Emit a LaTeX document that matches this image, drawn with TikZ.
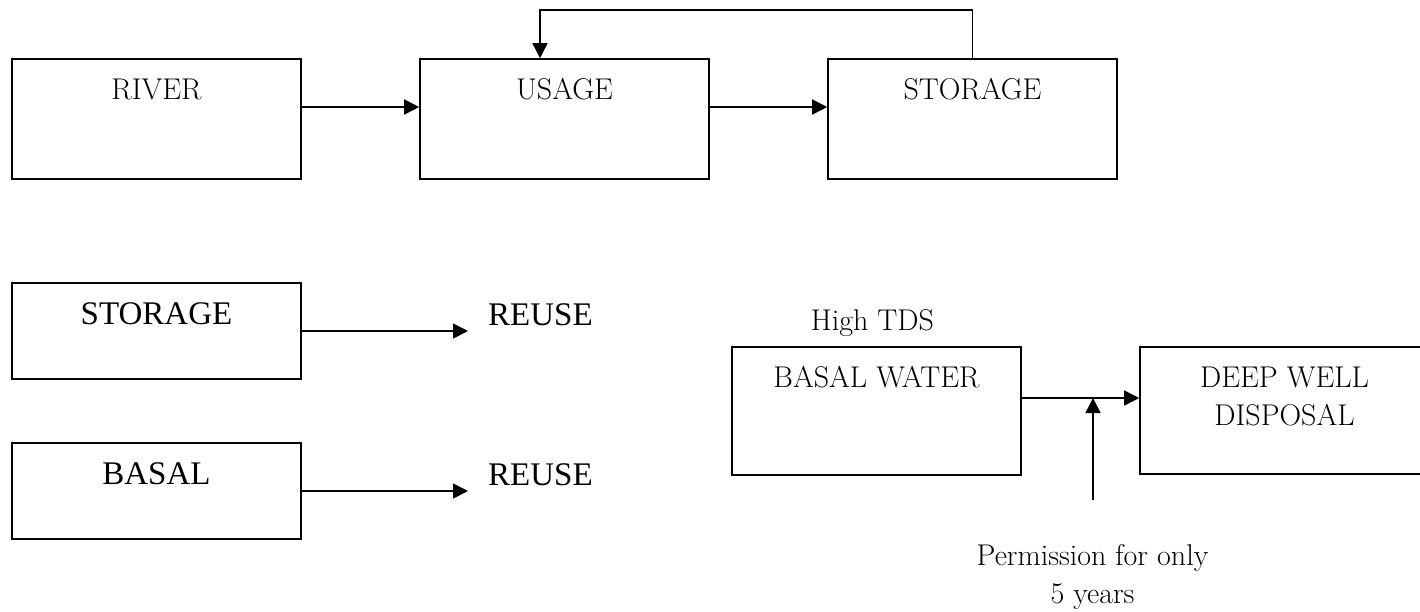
\documentclass[tikz,border=0pt]{standalone}
\usepackage{fontspec}
\newfontfamily\timesfont{Liberation Serif}
\usetikzlibrary{arrows.meta, positioning, calc}

\begin{document}
\begin{tikzpicture}[
  x=1pt, y=-1pt,
  font=\fontsize{30}{38}\selectfont,
  box/.style={draw, line width=1.6pt, minimum width=289pt, inner sep=0pt},
  lbl/.style={anchor=base, inner sep=0pt, align=center},
  tms/.style={anchor=base, inner sep=0pt, font=\timesfont\fontsize{33}{40}\selectfont},
  ar/.style={-{Triangle[length=15pt, width=15pt]}, line width=1.6pt}
]
\useasboundingbox (0,0) rectangle (1420,611);
% top row
\node[box, minimum height=120pt] (river) at (156.5,119) {};
\node[box, minimum height=120pt] (usage) at (564.5,119) {};
\node[box, minimum height=120pt] (store) at (972.5,119) {};
\node[lbl] (rivert) at ([yshift=-41pt]river.north) {RIVER};
\node[lbl] (usaget) at ([yshift=-41pt]usage.north) {USAGE};
\node[lbl] (storet) at ([yshift=-41pt]store.north) {STORAGE};
\draw[ar] ([yshift=12pt]river.east) -- ([yshift=12pt]usage.west);
\draw[ar] ([yshift=12pt]usage.east) -- ([yshift=12pt]store.west);
\draw[ar] (store.north) -- ++(0,-48) -| ([xshift=-24.5pt]usage.north);
% reuse
\node[box, minimum height=96pt] (store2) at (156.5,331) {};
\node[box, minimum height=96pt] (basal) at (156.5,491) {};
\node[tms] (store2t) at ([yshift=-42pt]store2.north) {STORAGE};
\node[tms] (basalt) at ([yshift=-42pt]basal.north) {BASAL};
\node[tms, anchor=base west] (reuse1) at (488,325) {REUSE};
\node[tms, anchor=base west] (reuse2) at (488,485) {REUSE};
\draw[ar] (store2.east) -- ([xshift=-20pt]reuse1.west |- store2.east);
\draw[ar] (basal.east) -- ([xshift=-20pt]reuse2.west |- basal.east);
% disposal
\node[box, minimum height=128pt] (basalw) at (876.5,411) {};
\node[box, minimum height=127pt] (dwell) at (1284.5,410.5) {};
\node[lbl] (tds) at (872.5,330) {High TDS};
\node[lbl] (basalwt) at ([yshift=-41pt]basalw.north) {BASAL WATER};
\node[lbl] (dwellt) at ([yshift=-79pt]dwell.north) {DEEP WELL\\DISPOSAL};
\node[lbl] (perm) at (1092.5,603) {Permission for only\\5 years};
\coordinate (ja) at ([yshift=13pt]basalw.east);
\coordinate (pm) at (1093,500);
\draw[ar] (ja) -- (ja -| dwell.west);
\draw[ar] (pm) -- (pm |- ja);
\end{tikzpicture}
\end{document}
